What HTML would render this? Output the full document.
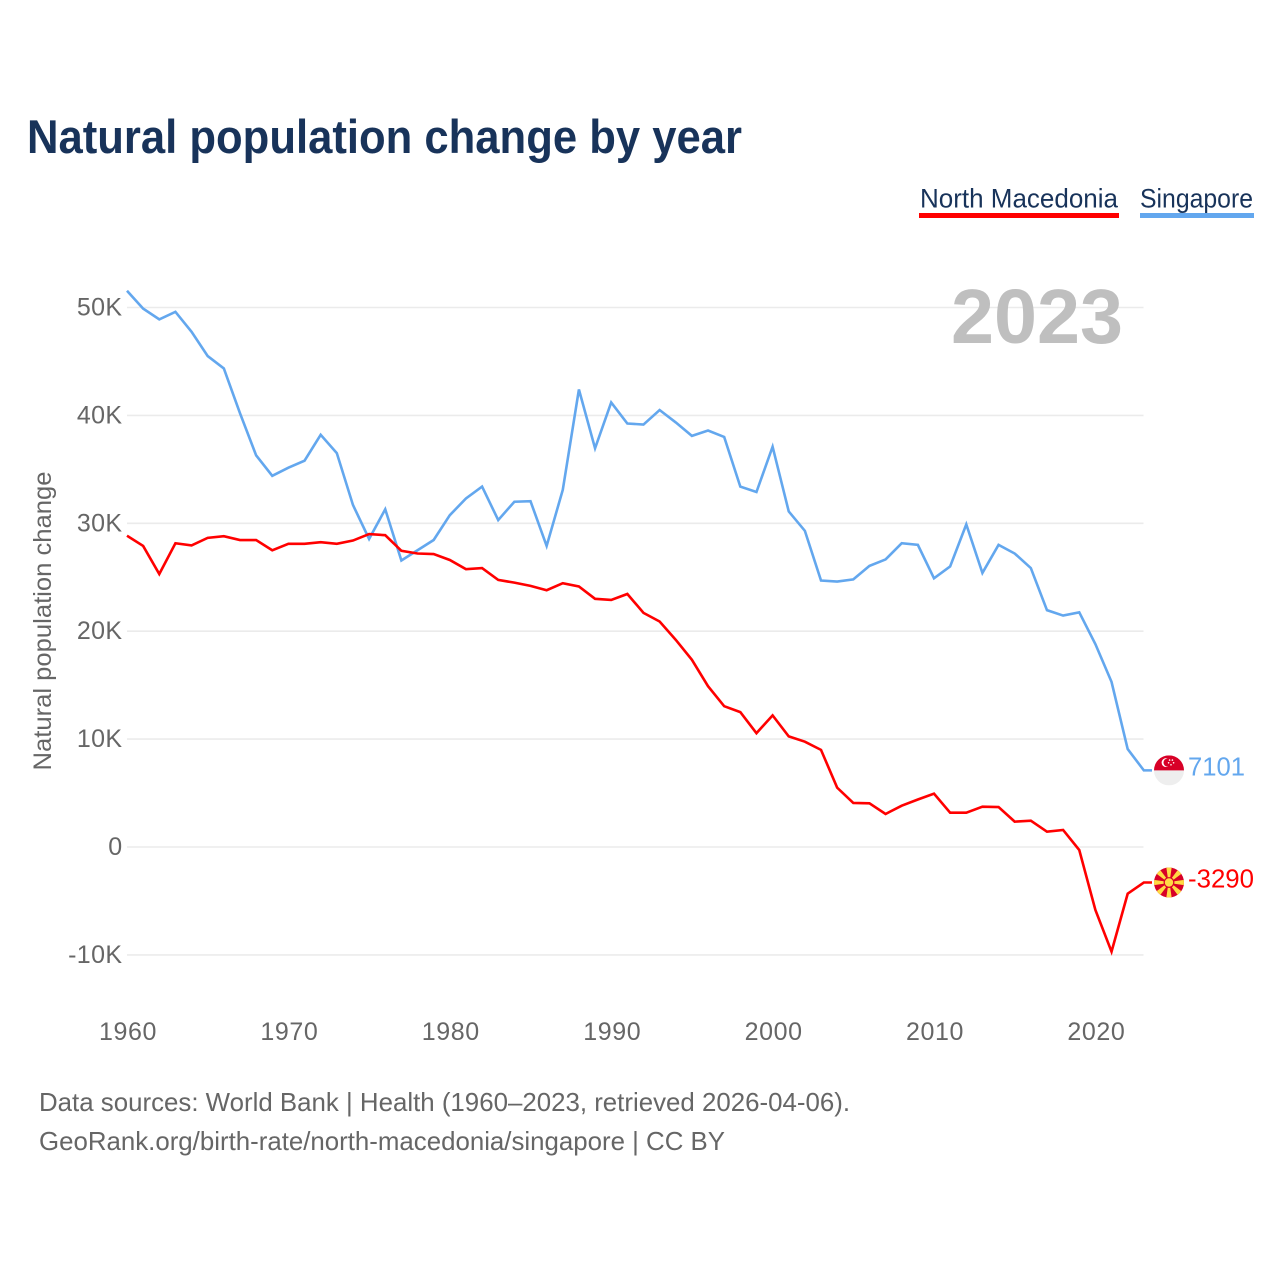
<!DOCTYPE html>
<html lang="en">
<head>
<meta charset="utf-8">
<title>Natural population change by year</title>
<style>
html,body{margin:0;padding:0;background:#fff;width:1280px;height:1280px;overflow:hidden}
svg{display:block}
text{font-family:"Liberation Sans",sans-serif}
</style>
</head>
<body>
<svg id="chart" xmlns="http://www.w3.org/2000/svg" width="1280" height="1280" viewBox="0 0 1280 1280">
  <defs>
    <clipPath id="flag-clip"><circle cx="0" cy="0" r="15"/></clipPath>
  </defs>
  <rect width="1280" height="1280" fill="#fff"/>
  <text x="27" y="153" font-size="47" font-weight="700" fill="#18335a" textLength="715" lengthAdjust="spacingAndGlyphs">Natural population change by year</text>

  <g>
    <g>
      <text x="920" y="207.5" font-size="27" fill="#18335a" textLength="198" lengthAdjust="spacingAndGlyphs">North Macedonia</text>
      <rect x="919" y="213" width="200" height="5" fill="#ff0000"/>
    </g>
    <g>
      <text x="1140" y="207.5" font-size="27" fill="#18335a" textLength="113" lengthAdjust="spacingAndGlyphs">Singapore</text>
      <rect x="1140" y="213" width="114" height="5" fill="#63a7ee"/>
    </g>
  </g>

  <g id="grid"></g>
  <text x="951" y="343" font-size="77" font-weight="700" fill="#bfbfbf" textLength="172" lengthAdjust="spacingAndGlyphs">2023</text>
  <g id="y-axis"></g>
  <g id="x-axis"></g>
  <text transform="translate(51,621) rotate(-90)" text-anchor="middle" font-size="25" fill="#666" textLength="299" lengthAdjust="spacingAndGlyphs">Natural population change</text>
  <g id="series"></g>

  <g id="flag-sg">
    <g clip-path="url(#flag-clip)">
      <rect x="-15" y="-15" width="30" height="30" fill="#eeeeee"/>
      <rect x="-15" y="-15" width="30" height="15" fill="#d80027"/>
      <circle cx="-3" cy="-7.8" r="4.4" fill="#fff"/>
      <circle cx="-1.4" cy="-7.8" r="4.1" fill="#d80027"/>
      <circle cx="0.6" cy="-10.3" r="0.8" fill="#fff"/>
      <circle cx="3.4" cy="-10.3" r="0.8" fill="#fff"/>
      <circle cx="4.6" cy="-7.6" r="0.8" fill="#fff"/>
      <circle cx="-0.4" cy="-7.6" r="0.8" fill="#fff"/>
      <circle cx="2" cy="-5.6" r="0.8" fill="#fff"/>
    </g>
  </g>
  <g id="flag-mk">
    <g clip-path="url(#flag-clip)">
      <rect x="-15" y="-15" width="30" height="30" fill="#d80027"/>
      <g fill="#ffda44">
        <polygon points="-2.8,-16 2.8,-16 0.5,0 -0.5,0"/>
        <polygon points="-2.8,-16 2.8,-16 0.5,0 -0.5,0" transform="rotate(45)"/>
        <polygon points="-2.8,-16 2.8,-16 0.5,0 -0.5,0" transform="rotate(90)"/>
        <polygon points="-2.8,-16 2.8,-16 0.5,0 -0.5,0" transform="rotate(135)"/>
        <polygon points="-2.8,-16 2.8,-16 0.5,0 -0.5,0" transform="rotate(180)"/>
        <polygon points="-2.8,-16 2.8,-16 0.5,0 -0.5,0" transform="rotate(225)"/>
        <polygon points="-2.8,-16 2.8,-16 0.5,0 -0.5,0" transform="rotate(270)"/>
        <polygon points="-2.8,-16 2.8,-16 0.5,0 -0.5,0" transform="rotate(315)"/>
        <circle cx="0" cy="0" r="5.4" fill="#d80027"/>
        <circle cx="0" cy="0" r="4.2"/>
      </g>
    </g>
  </g>
  <text id="value-sg" x="1188" font-size="26" fill="#63a7ee" textLength="57" lengthAdjust="spacingAndGlyphs"></text>
  <text id="value-mk" x="1188" font-size="26" fill="#ff0000" textLength="66" lengthAdjust="spacingAndGlyphs"></text>

  <g>
    <text x="39" y="1111" font-size="26" fill="#666" textLength="811" lengthAdjust="spacingAndGlyphs">Data sources: World Bank | Health (1960–2023, retrieved 2026-04-06).</text>
    <text x="39" y="1150" font-size="26" fill="#666" textLength="686" lengthAdjust="spacingAndGlyphs">GeoRank.org/birth-rate/north-macedonia/singapore | CC BY</text>
  </g>
</svg>
<script>
const startYear = 1960;
const macedonia = [28.85,27.9,25.3,28.15,27.95,28.65,28.8,28.45,28.45,27.5,28.1,28.1,28.25,28.1,28.4,29.0,28.9,27.45,27.2,27.15,26.6,25.75,25.85,24.75,24.5,24.2,23.8,24.45,24.15,23.0,22.9,23.45,21.7,20.9,19.2,17.35,14.9,13.05,12.5,10.55,12.2,10.25,9.76,9.0,5.5,4.08,4.05,3.06,3.83,4.4,4.94,3.18,3.18,3.74,3.7,2.35,2.44,1.42,1.58,-0.28,-5.84,-9.7,-4.33,-3.29];
const singapore = [51.55,49.9,48.9,49.6,47.75,45.5,44.35,40.2,36.3,34.4,35.15,35.8,38.2,36.5,31.7,28.55,31.3,26.55,27.5,28.45,30.75,32.3,33.4,30.3,32.0,32.05,27.9,33.1,42.4,36.95,41.2,39.25,39.15,40.5,39.35,38.1,38.6,38.0,33.4,32.9,37.1,31.1,29.3,24.7,24.6,24.8,26.05,26.65,28.15,28.0,24.9,26.0,29.9,25.4,28.0,27.2,25.85,21.95,21.45,21.75,18.8,15.3,9.08,7.101];
const yTicks = [-10,0,10,20,30,40,50];
const yTickLabels = ["-10K","0","10K","20K","30K","40K","50K"];
const xTicks = [1960,1970,1980,1990,2000,2010,2020];
const macedoniaEndLabel = "-3290";
const singaporeEndLabel = "7101";

const NS = "http://www.w3.org/2000/svg";
const X0 = 127, XPERYEAR = 16.14, Y0 = 847, YPERK = 10.79;
const GRID_RIGHT = 1143.5, CONNECT_RIGHT = 1152;
function xScale(year){ return X0 + (year - 1960) * XPERYEAR; }
function yScale(v){ return Y0 - v * YPERK; }

function make(tag, parent, attrs){
  const el = document.createElementNS(NS, tag);
  for (const k in attrs) el.setAttribute(k, attrs[k]);
  parent.appendChild(el);
  return el;
}

const grid = document.getElementById('grid');
const yAxis = document.getElementById('y-axis');
const xAxis = document.getElementById('x-axis');
const seriesGroup = document.getElementById('series');

yTicks.forEach(function(v, i){
  const line = make('line', grid, {x1: X0, x2: GRID_RIGHT, y1: yScale(v), y2: yScale(v), stroke: '#ebebeb', 'stroke-width': 1.6});
  
  
  const t = make('text', yAxis, {x: 122.5, y: yScale(v) + 8, 'text-anchor': 'end', 'font-size': 25, 'letter-spacing': 0.4, fill: '#666'});
  
  
  t.textContent = yTickLabels[i];
});

xTicks.forEach(function(year){
  const t = make('text', xAxis, {x: xScale(year) + 1, y: 1040, 'text-anchor': 'middle', 'font-size': 25, 'letter-spacing': 0.6, fill: '#666'});
  
  
  t.textContent = String(year);
});

function drawSeries(values, color){
  const pts = values.map(function(v, i){ return xScale(startYear + i).toFixed(2) + ',' + yScale(v).toFixed(2); });
  const last = values[values.length - 1];
  pts.push(CONNECT_RIGHT + ',' + yScale(last).toFixed(2));
  const line = make('polyline', seriesGroup, {points: pts.join(' '), fill: 'none', stroke: color, 'stroke-width': 2.6, 'stroke-linejoin': 'miter'});
  return line;
}

const lineSg = drawSeries(singapore, '#63a7ee');


const lineMk = drawSeries(macedonia, '#ff0000');



const lastSg = singapore[singapore.length - 1];
const lastMk = macedonia[macedonia.length - 1];
document.getElementById('flag-sg').setAttribute('transform', 'translate(1169,' + yScale(lastSg) + ')');
document.getElementById('flag-mk').setAttribute('transform', 'translate(1169,' + yScale(lastMk) + ')');
const valueSg = document.getElementById('value-sg');
valueSg.setAttribute('y', yScale(lastSg) + 5);
valueSg.textContent = singaporeEndLabel;
const valueMk = document.getElementById('value-mk');
valueMk.setAttribute('y', yScale(lastMk) + 5);
valueMk.textContent = macedoniaEndLabel;
</script>
</body>
</html>
